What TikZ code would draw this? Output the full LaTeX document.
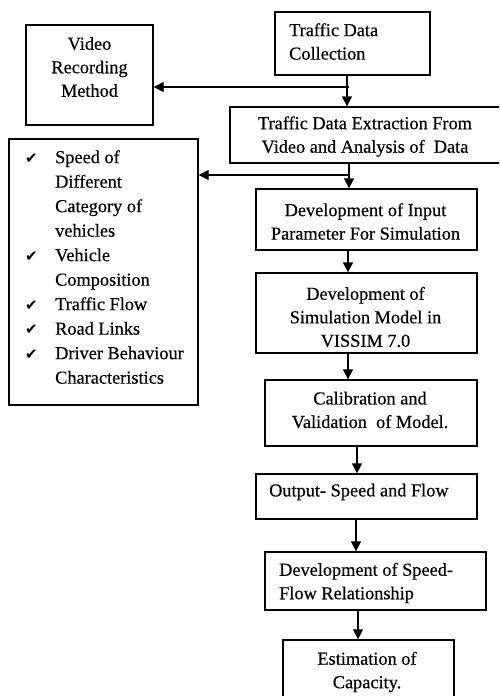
\documentclass[tikz,border=0pt]{standalone}
\usepackage{fontspec}
\setmainfont{Liberation Serif}
\newfontfamily\heavyserif[FakeBold=0.4]{Liberation Serif}
\newfontfamily\symfont{DejaVu Sans}
\usetikzlibrary{arrows.meta}

\begin{document}
\begin{tikzpicture}[x=1pt, y=-1pt,
  panel/.style={draw, line width=1.3pt, inner sep=0pt},
  txt/.style={inner sep=0pt, font=\heavyserif\fontsize{18.3}{23.5}\selectfont},
  arr/.style={line width=1.3pt, -{Triangle[width=10pt,length=10pt]}}
]
\useasboundingbox (0,0) rectangle (499,696);
\clip (0,0) rectangle (499,696);
\fill[white] (0,0) rectangle (499,696);

% frames
\node[panel, minimum width=155pt, minimum height=63pt]  (collect) at (352.5,43.5) {};
\node[panel, minimum width=127pt, minimum height=100pt] (video)   at (89.5,75) {};
\node[panel, minimum width=290pt, minimum height=56pt]  (extract) at (375,135) {};
\node[panel, minimum width=189pt, minimum height=266pt] (params)  at (103.5,272) {};
\node[panel, minimum width=221pt, minimum height=61pt]  (input)   at (366.5,219.5) {};
\node[panel, minimum width=221pt, minimum height=80pt]  (simmod)  at (366.5,313) {};
\node[panel, minimum width=212pt, minimum height=66pt]  (calib)   at (371,413) {};
\node[panel, minimum width=221pt, minimum height=45pt]  (output)  at (366.5,496.5) {};
\node[panel, minimum width=221pt, minimum height=58pt]  (relation) at (375.5,581) {};
\node[panel, minimum width=171pt, minimum height=90pt]  (capacity) at (368.5,685) {};

% labels
\node[txt, anchor=west, align=left] (tcollect) at (289,41.5) {Traffic Data\\Collection};
\node[txt, align=center] (tvideo) at (89.5,67) {Video\\Recording\\Method};
\node[txt, align=center] (textract) at (365,136.5) {Traffic Data Extraction From\\Video and Analysis of~ Data};
\node[txt, align=center] (tinput) at (365.5,221.5) {Development of Input\\Parameter For Simulation};
\node[txt, align=center] (tsimmod) at (365.5,317) {Development of\\Simulation Model in\\VISSIM 7.0};
\node[txt, align=center] (tcalib) at (370,410) {Calibration and\\Validation~ of Model.};
\node[txt, anchor=west] (toutput) at (269,492) {Output- Speed and Flow};
\node[txt, anchor=west, align=left] (trelation) at (279,583) {Development of Speed-\\Flow Relationship};
\node[txt, align=center] (tcapacity) at (367,672) {Estimation of\\Capacity.};

% checklist of input parameters
\newcommand\tick{{\symfont\fontsize{15}{15}\selectfont ✔}}
\node[inner sep=0pt, anchor=west] (tparams) at (25,268.5) {%
  \heavyserif\fontsize{18.3}{24.5}\selectfont
  \begin{tabular}{@{}l@{}l@{}}
    \makebox[30pt][l]{\tick} & Speed of\\
    & Different\\
    & Category of\\
    & vehicles\\
    \tick & Vehicle\\
    & Composition\\
    \tick & Traffic Flow\\
    \tick & Road Links\\
    \tick & Driver Behaviour\\
    & Characteristics
  \end{tabular}};

% branch points
\coordinate (j1) at (349,87);
\coordinate (j2) at (349,175);

% connectors
\draw[arr] ([xshift=-5.5pt]collect.south) -- ([xshift=-5.5pt]collect.south |- extract.north);
\draw[arr] (j1) -- (j1 -| video.east);
\draw[arr] (extract.south -| j2) -- (input.north -| j2);
\draw[arr] (j2) -- (j2 -| params.east);
\draw[arr] (input.south -| 348,0) -- (simmod.north -| 348,0);
\draw[arr] (simmod.south -| 348,0) -- (calib.north -| 348,0);
\draw[arr] (calib.south -| 357,0) -- (output.north -| 357,0);
\draw[arr] (output.south -| 356,0) -- (relation.north -| 356,0);
\draw[arr] (relation.south -| 358,0) -- (capacity.north -| 358,0);
\end{tikzpicture}
\end{document}
